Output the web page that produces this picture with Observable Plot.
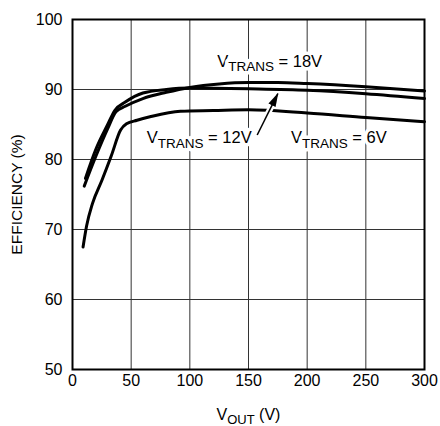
<!DOCTYPE html>
<html><head><meta charset="utf-8">
<script src="https://cdn.jsdelivr.net/npm/d3@7"></script>
<script src="https://cdn.jsdelivr.net/npm/@observablehq/plot@0.6"></script>
<style>
body{margin:0;background:#fff;}
#chart svg{font-family:"Liberation Sans",Arial,sans-serif;}
</style></head><body><div id="chart"></div>
<script>
// V_TRANS = 18V
const vout18 = [10, 20, 30, 37, 45, 60, 80, 100, 125, 150, 175, 200, 250, 300];
const eff18  = [76.2, 80.5, 84.4, 86.8, 87.6, 88.7, 89.6, 90.3, 90.8, 91.0, 91.0, 90.85, 90.4, 89.8];
// V_TRANS = 12V
const vout12 = [11, 20, 30, 36, 45, 60, 80, 100, 150, 200, 250, 300];
const eff12  = [77.3, 81.5, 85.0, 87.0, 88.2, 89.5, 90.0, 90.2, 90.1, 89.9, 89.4, 88.7];
// V_TRANS = 6V
const vout6 = [9, 12, 17, 25, 33, 41, 46, 55, 66, 92, 120, 150, 200, 250, 300];
const eff6  = [67.5, 70.5, 73.7, 77.0, 80.5, 84.2, 85.1, 85.6, 86.1, 86.9, 87.0, 87.1, 86.65, 86.0, 85.4];

const xTicks = [0, 50, 100, 150, 200, 250, 300];
const yTicks = [50, 60, 70, 80, 90, 100];

const labelText = ["VTRANS = 18V", "VTRANS = 12V", "VTRANS = 6V"];
const labelX = [168, 108, 227];
const labelY = [94.0, 83.1, 83.1];

const arrowFrom = [157.4, 83.5];
const arrowTo = [175, 89.4];

const series = [
  ...vout18.map((v, i) => ({v, e: eff18[i], s: "18V"})),
  ...vout12.map((v, i) => ({v, e: eff12[i], s: "12V"})),
  ...vout6.map((v, i) => ({v, e: eff6[i], s: "6V"}))
];
const labels = labelText.map((t, i) => ({t, x: labelX[i], y: labelY[i]}));
const arrow = [{x1: arrowFrom[0], y1: arrowFrom[1], x2: arrowTo[0], y2: arrowTo[1]}];
const lerp = (a, b, t) => a + (b - a) * t;
const halo = [{x1: lerp(arrowFrom[0], arrowTo[0], 0.3), y1: lerp(arrowFrom[1], arrowTo[1], 0.3),
               x2: lerp(arrowFrom[0], arrowTo[0], 0.8), y2: lerp(arrowFrom[1], arrowTo[1], 0.8)}];

const plot = Plot.plot({
  width: 440, height: 426,
  marginLeft: 72, marginRight: 16, marginTop: 19, marginBottom: 57,
  style: {fontSize: "16px", color: "black", background: "white"},
  x: {domain: [0, 300]},
  y: {domain: [50, 100]},
  marks: [
    Plot.gridX(xTicks, {stroke: "#333", strokeOpacity: 1, strokeWidth: 1}),
    Plot.gridY(yTicks, {stroke: "#333", strokeOpacity: 1, strokeWidth: 1}),
    Plot.axisX(xTicks, {tickSize: 0, tickPadding: 5, fontSize: 16, label: "VOUT (V)", labelAnchor: "center", labelArrow: "none", labelOffset: 50}),
    Plot.axisY(yTicks, {tickSize: 0, tickPadding: 10, fontSize: 16, label: "EFFICIENCY (%)", labelAnchor: "center", labelArrow: "none", labelOffset: 62}),
    Plot.line(series, {x: "v", y: "e", z: "s", stroke: "black", strokeWidth: 3, curve: "monotone-x"}),
    Plot.text(labels, {x: "x", y: "y", text: "t", fontSize: 16.5, fill: "black", stroke: "white", strokeWidth: 7, textAnchor: "middle"}),
    Plot.link(halo, {x1: "x1", y1: "y1", x2: "x2", y2: "y2", stroke: "white", strokeWidth: 6}),
    Plot.link(arrow, {x1: "x1", y1: "y1", x2: "x2", y2: "y2", stroke: "black", strokeWidth: 1.5}),
    Plot.frame({stroke: "black", strokeWidth: 2})
  ]
});

document.getElementById("chart").appendChild(plot);
const svg = d3.select(plot);

// filled arrowhead marker
const defs = svg.insert("defs", ":first-child");
defs.append("marker").attr("id", "ahead").attr("viewBox", "0 -5 14 10")
  .attr("refX", 13).attr("refY", 0).attr("markerWidth", 14).attr("markerHeight", 10)
  .attr("markerUnits", "userSpaceOnUse").attr("orient", "auto")
  .append("path").attr("d", "M0,-4L14,0L0,4Z").attr("fill", "black");
svg.selectAll("g[aria-label='link'] path, g[aria-label='link'] line").each(function() {
  if (d3.select(this).attr("stroke") !== "white" && d3.select(this.parentNode).attr("stroke") !== "white") {
    d3.select(this).attr("marker-end", "url(#ahead)");
  }
});

// subscripts
function subify(el, main, sub, rest, subSize, shift) {
  const t = d3.select(el);
  t.text(null);
  t.append("tspan").text(main);
  t.append("tspan").attr("font-size", subSize).attr("dy", shift).text(sub);
  t.append("tspan").attr("dy", -shift).text(rest);
}
svg.selectAll("text").each(function() {
  const s = this.textContent;
  if (s.startsWith("VTRANS")) subify(this, "V", "TRANS", s.slice(6), 13.5, 4.5);
  else if (s.startsWith("VOUT")) subify(this, "V", "OUT", s.slice(4), 13, 4);
});
svg.selectAll("g[aria-label='y-axis label'] text").attr("font-size", 15.5);
</script></body></html>
